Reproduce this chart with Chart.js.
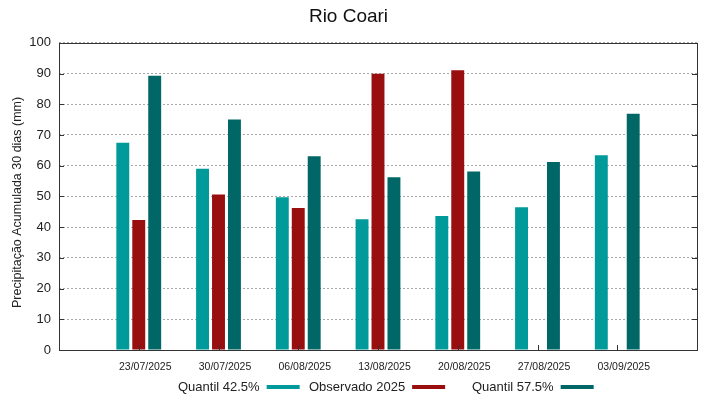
<!DOCTYPE html>
<html>
<head>
<meta charset="utf-8">
<script src="https://cdn.jsdelivr.net/npm/chart.js@4.4.1/dist/chart.umd.min.js"></script>
<style>
  html, body { margin: 0; padding: 0; background: #fff; }
  #wrap { width: 719px; height: 399px; }
</style>
</head>
<body>
<div id="wrap"><canvas id="myChart"></canvas></div>
<script>
// dados
const datas = ['23/07/2025', '30/07/2025', '06/08/2025', '13/08/2025', '20/08/2025', '27/08/2025', '03/09/2025'];
const quantil425 = [67.5, 59.0, 49.7, 42.6, 43.6, 46.5, 63.4];
const observado2025 = [42.3, 50.6, 46.2, 89.9, 91.1, null, null];
const quantil575 = [89.3, 75.0, 63.1, 56.2, 58.1, 61.2, 76.9];
const yTicks = [0, 10, 20, 30, 40, 50, 60, 70, 80, 90, 100];
const yTitle = 'Precipitação Acumulada 30 dias (mm)';

const FONT = 'Liberation Sans, Arial, sans-serif';

// slot vazio de cada lado, como no gnuplot
const pad = arr => [null, ...arr, null];

// moldura, marcas internas, título do eixo y e legenda (texto à esquerda, amostra à direita)
const framePlugin = {
  id: 'frame',
  afterDraw(chart) {
    const { ctx, chartArea: a, scales } = chart;
    ctx.save();
    ctx.strokeStyle = '#333';
    ctx.lineWidth = 1;
    ctx.beginPath();
    // marcas no eixo x
    for (let i = 1; i <= datas.length; i++) {
      const x = Math.round(scales.x.getPixelForTick(i)) + 0.5;
      ctx.moveTo(x, a.bottom);
      ctx.lineTo(x, a.bottom - 5);
    }
    // marcas no eixo y, dos dois lados
    yTicks.forEach(v => {
      const y = Math.round(scales.y.getPixelForValue(v)) + 0.5;
      ctx.moveTo(a.left, y); ctx.lineTo(a.left + 5, y);
      ctx.moveTo(a.right, y); ctx.lineTo(a.right - 5, y);
    });
    ctx.stroke();
    ctx.strokeRect(Math.round(a.left) + 0.5, Math.round(a.top) + 0.5,
      Math.round(a.right - a.left), Math.round(a.bottom - a.top));

    // título do eixo y
    ctx.save();
    ctx.translate(17.5, (a.top + a.bottom) / 2 + 6);
    ctx.rotate(-Math.PI / 2);
    ctx.font = '12.5px ' + FONT;
    ctx.fillStyle = '#222';
    ctx.textAlign = 'center';
    ctx.textBaseline = 'middle';
    ctx.fillText(yTitle, 0, 0);
    ctx.restore();

    // legenda
    const starts = [178, 309, 472];
    ctx.font = '13px ' + FONT;
    ctx.textBaseline = 'middle';
    chart.data.datasets.forEach((ds, i) => {
      const x = starts[i];
      const y = 387;
      ctx.fillStyle = '#222';
      ctx.fillText(ds.label, x, y);
      const w = ctx.measureText(ds.label).width;
      ctx.fillStyle = ds.backgroundColor;
      ctx.fillRect(x + w + 7, y - 2, 33, 4);
    });
    ctx.restore();
  }
};

const ctx = document.getElementById('myChart').getContext('2d');

const myChart = new Chart(ctx, {
  type: 'bar',
  data: {
    labels: ['', ...datas, ''],
    datasets: [
      { label: 'Quantil 42.5%', data: pad(quantil425), backgroundColor: '#009a9a' },
      { label: 'Observado 2025', data: pad(observado2025), backgroundColor: '#990e0e' },
      { label: 'Quantil 57.5%', data: pad(quantil575), backgroundColor: '#006666' }
    ]
  },
  options: {
    responsive: true,
    maintainAspectRatio: false,
    animation: false,
    categoryPercentage: 0.6,
    barPercentage: 0.81,
    layout: { padding: { left: 0, right: 22, top: 0, bottom: 24 } },
    plugins: {
      legend: { display: false },
      tooltip: { enabled: false },
      title: {
        display: true,
        text: 'Rio Coari',
        color: '#111',
        font: { family: FONT, size: 19, weight: 'normal' },
        padding: { top: 5, bottom: 15 }
      }
    },
    scales: {
      x: {
        offset: false,
        grid: { display: false, drawTicks: false },
        border: { display: false },
        ticks: {
          color: '#222',
          font: { family: FONT, size: 10.5 },
          maxRotation: 0,
          autoSkip: false,
          padding: 11,
          labelOffset: 6.5
        },
        afterFit(scale) { scale.height = 25; }
      },
      y: {
        min: 0,
        max: 100,
        afterBuildTicks(scale) { scale.ticks = yTicks.map(v => ({ value: v })); },
        grid: { color: '#a8a8a8', lineWidth: 1, drawTicks: false },
        border: { display: false, dash: [2, 2] },
        ticks: {
          color: '#222',
          font: { family: FONT, size: 13 },
          padding: 8
        },
        afterFit(scale) { scale.width = 59; }
      }
    }
  },
  plugins: [framePlugin]
});
</script>
</body>
</html>
